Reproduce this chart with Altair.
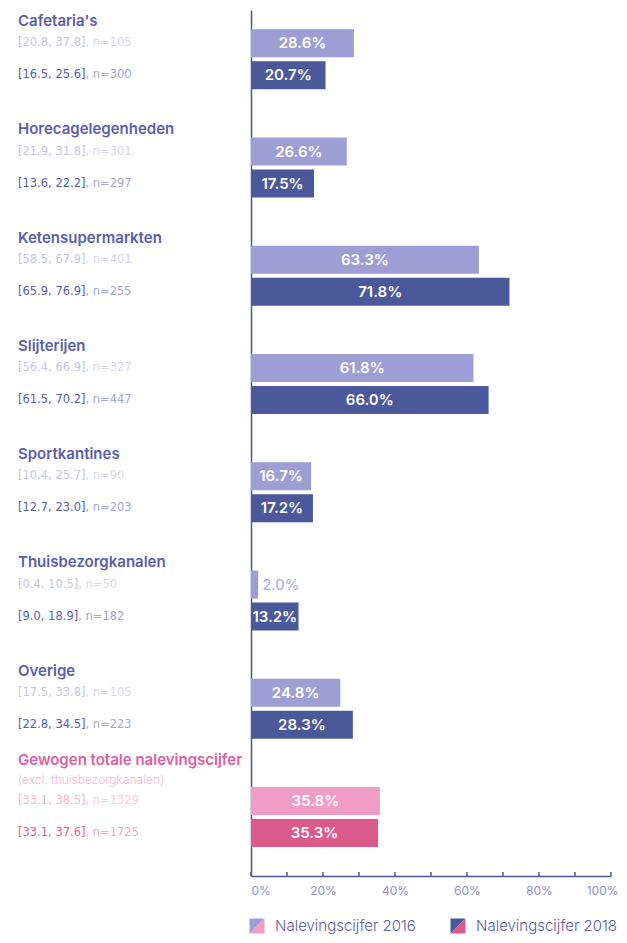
import altair as alt
import pandas as pd

# ---------------- data ----------------
categories = ["Cafetaria's", "Horecagelegenheden", "Ketensupermarkten", "Slijterijen",
              "Sportkantines", "Thuisbezorgkanalen", "Overige",
              "Gewogen totale nalevingscijfer"]
v2016 = [28.6, 26.6, 63.3, 61.8, 16.7, 2.0, 24.8, 35.8]
v2018 = [20.7, 17.5, 71.8, 66.0, 17.2, 13.2, 28.3, 35.3]
ci2016 = ["[20.8, 37.8]", "[21.9, 31.8]", "[58.5, 67.9]", "[56.4, 66.9]",
          "[10.4, 25.7]", "[0.4, 10.5]", "[17.5, 33.8]", "[33.1, 38.5]"]
ci2018 = ["[16.5, 25.6]", "[13.6, 22.2]", "[65.9, 76.9]", "[61.5, 70.2]",
          "[12.7, 23.0]", "[9.0, 18.9]", "[22.8, 34.5]", "[33.1, 37.6]"]
n2016 = [105, 301, 401, 327, 90, 50, 105, 1329]
n2018 = [300, 297, 255, 447, 203, 182, 223, 1725]
years = ["2016", "2018"]
tick_values = list(range(0, 101, 10))
label_values = list(range(0, 101, 20))
legend_labels = ["Nalevingscijfer 2016", "Nalevingscijfer 2018"]
total_cat = categories[-1]
total_subtitle = "(excl. thuisbezorgkanalen)"

rows = []
for i, c in enumerate(categories):
    grp = "pink" if c == total_cat else "blue"
    for y, v, ci, n in ((years[0], v2016[i], ci2016[i], n2016[i]),
                        (years[1], v2018[i], ci2018[i], n2018[i])):
        rows.append(dict(cat=c, year=y, value=v, ci=ci,
                         ntxt=f", n={n}", key=grp + y))
df = pd.DataFrame(rows)
titles_df = pd.DataFrame({"cat": categories})
ticks_df = pd.DataFrame({"t": tick_values})
legend_df = pd.DataFrame({"label": legend_labels, "year": years})

# ---------------- style ----------------
FONT = "Inter"
CIFONT = "DejaVu Sans"
CISIZE = 11.5
H = 866
W = 360
LX = -233
AX = "#4b5899"
TITLE_BLUE = "#5a60a8"
TITLE_PINK = "#e0609a"
keys = ["blue2016", "blue2018", "pink2016", "pink2018"]
bar_range = ["#9d9fd4", "#4b5899", "#f09cc4", "#dc5a8a"]
n_range = ["#d6d7ef", "#a3a6d6", "#f8cde0", "#f2a9c9"]
bracket_range = ["#c4c5e7", "#5a60a6", "#f5b6d2", "#e0609a"]
# advance widths (em) of DejaVu Sans glyphs, to place the ", n=" part after the bracket
EM_DIGIT, EM_PUNCT, EM_BRACKET = 0.636, 0.318, 0.390


def Y(band_pos=None):
    kw = {}
    if band_pos is not None:
        kw["bandPosition"] = band_pos
    return alt.Y("cat:N", title=None,
                 scale=alt.Scale(domain=categories, paddingInner=0, paddingOuter=0),
                 axis=alt.Axis(labels=False, ticks=False, title=None, grid=False,
                               domainColor=AX, domainWidth=1.5),
                 **kw)


def YO():
    return alt.YOffset("year:N",
                       scale=alt.Scale(domain=years, paddingInner=0.125,
                                       paddingOuter=0.755, align=0.4))


XAXIS = alt.Axis(values=label_values, labelExpr="datum.value + '%'", ticks=False,
                 grid=False, title=None, domainColor=AX, domainWidth=1.5,
                 labelColor="#9092cf", labelFont=FONT, labelFontSize=12,
                 labelPadding=9,
                 labelAlign={"condition": [{"test": "datum.value == 0", "value": "left"},
                                           {"test": "datum.value == 100", "value": "right"}],
                             "value": "center"},
                 labelOffset={"condition": {"test": "datum.value == 100", "value": 7},
                              "value": 0})
XSCALE = alt.Scale(domain=[0, 100], nice=False, zero=True)

base = alt.Chart(df)

bars = base.mark_bar().encode(
    y=Y(), yOffset=YO(),
    x=alt.X("value:Q", scale=XSCALE, axis=XAXIS),
    color=alt.Color("key:N", scale=alt.Scale(domain=keys, range=bar_range), legend=None),
)

inside = base.transform_filter("datum.value >= 5").transform_calculate(
    mid="datum.value / 2", txt="format(datum.value, '.1f') + '%'"
).mark_text(color="white", font=FONT, fontSize=15, fontWeight=600,
            baseline="middle").encode(
    y=Y(), yOffset=YO(), x=alt.X("mid:Q", scale=XSCALE, axis=XAXIS), text="txt:N")

outside = base.transform_filter("datum.value < 5").transform_calculate(
    txt="format(datum.value, '.1f') + '%'"
).mark_text(color="#a9abd9", font=FONT, fontSize=15, fontWeight=400,
            align="left", dx=4, baseline="middle").encode(
    y=Y(), yOffset=YO(), x=alt.X("value:Q", scale=XSCALE, axis=XAXIS), text="txt:N")

ci_bracket = base.mark_text(font=CIFONT, fontSize=CISIZE, align="left",
                            baseline="middle").encode(
    y=Y(), yOffset=YO(), x=alt.value(LX), text="ci:N",
    color=alt.Color("key:N", scale=alt.Scale(domain=keys, range=bracket_range), legend=None))

n_layers = []
for nd in (6, 5):
    nchar = nd + 6
    width_em = nd * EM_DIGIT + 4 * EM_PUNCT + 2 * EM_BRACKET
    n_layers.append(base.transform_filter(f"length(datum.ci) == {nchar}").mark_text(
        font=CIFONT, fontSize=CISIZE, align="left", baseline="middle",
        dx=width_em * CISIZE).encode(
        y=Y(), yOffset=YO(), x=alt.value(LX), text="ntxt:N",
        color=alt.Color("key:N", scale=alt.Scale(domain=keys, range=n_range), legend=None)))

titles = alt.Chart(titles_df).transform_filter(
    alt.datum.cat != total_cat
).mark_text(font=FONT, fontSize=15, fontWeight=600, align="left", baseline="middle",
            dy=11, color=TITLE_BLUE).encode(
    y=Y(0), x=alt.value(LX), text="cat:N")

total_title = alt.Chart(titles_df).transform_filter(
    alt.datum.cat == total_cat
).mark_text(font=FONT, fontSize=15, fontWeight=600, align="left", baseline="middle",
            dy=-8, color=TITLE_PINK).encode(
    y=Y(0), x=alt.value(LX), text="cat:N")

total_sub = alt.Chart(titles_df).transform_filter(
    alt.datum.cat == total_cat
).transform_calculate(sub=f"'{total_subtitle}'").mark_text(
    font=FONT, fontSize=12, fontWeight=300, align="left", baseline="middle",
    dy=12, color="#f4b8d4").encode(
    y=Y(0), x=alt.value(LX), text="sub:N")

ticks = alt.Chart(ticks_df).mark_rule(color=AX, strokeWidth=1.5).encode(
    x=alt.X("t:Q", scale=XSCALE, axis=XAXIS), y=alt.value(H - 4), y2=alt.value(H))

TL = "M -1 -1 L 1 -1 L -1 1 Z"
BR = "M 1 -1 L 1 1 L -1 1 Z"
LEG_Y = H + 50
legend_layers = []
for i, (xs, tl, br) in enumerate([(6, "#9d9fd4", "#f09cc4"), (207, "#4b5899", "#dc5a8a")]):
    ld = alt.Chart(legend_df).transform_filter(alt.datum.year == years[i])
    legend_layers.append(ld.mark_point(shape=TL, filled=True, size=225, opacity=1,
                                       strokeWidth=0, fill=tl).encode(
        x=alt.value(xs), y=alt.value(LEG_Y)))
    legend_layers.append(ld.mark_point(shape=BR, filled=True, size=225, opacity=1,
                                       strokeWidth=0, fill=br).encode(
        x=alt.value(xs), y=alt.value(LEG_Y)))
    legend_layers.append(ld.mark_text(font=FONT, fontSize=15, fontWeight=300,
                                      align="left", baseline="middle",
                                      color="#5a5e96").encode(
        x=alt.value(xs + 18), y=alt.value(LEG_Y), text="label:N"))

chart = alt.layer(
    bars, inside, outside, ci_bracket, *n_layers, titles, total_title, total_sub, ticks,
    *legend_layers
).resolve_scale(color="independent").properties(
    width=W, height=H,
    autosize=alt.AutoSizeParams(type="none"),
    padding={"left": 243, "top": 2, "right": 8, "bottom": 59},
).configure_view(stroke=None)

chart.save("out.html", embed_options={"renderer": "svg", "actions": False})
